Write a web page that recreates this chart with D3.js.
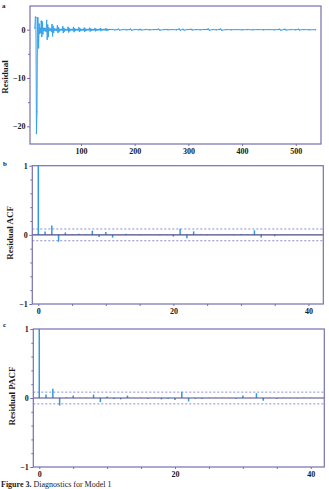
<!DOCTYPE html>
<html>
<head>
<meta charset="utf-8">
<script src="https://cdn.jsdelivr.net/npm/d3@7"></script>
<style>
  html, body { margin: 0; padding: 0; background: #fff; }
  svg { display: block; }
  text { font-family: "Liberation Serif", "DejaVu Serif", serif; }
</style>
</head>
<body>
<svg id="chart" width="329" height="489"></svg>
<script>
// ---------------- DATA ----------------
// Panel a: residual series (dense part starts at t = 14, one value per step)
const residualStart = 14;
const residualDense = [
  0.3, 2.6, 2.6, -21.5, -17.0, 2.5, 2.4, -3.8, 1.2, -0.8, 0.3, -0.6,
  1.8, -1.4, 1.6, -0.9, 0.3, -0.2, 0.3, -0.2, 0.2, -0.4, 1.9, -2.0,
  1.0, -1.4, 0.4, -0.2, 0.1, -0.1, 0.2, -0.4, 1.1, -1.3, 0.7, -0.6,
  0.2, -0.1, 0.1, -0.1, 0.1, -0.2, 0.8, -0.6, 0.4, -0.4, 0.1, -0.1,
  0.05, -0.05, 0.1, -0.1, 0.6, -0.6, 0.3, -0.3, 0.1, -0.05, 0.05, -0.05,
  0.05, -0.1, 0.5, -0.5, 0.25, -0.25, 0.05, -0.05, 0.05, -0.05, 0.05, -0.1,
  0.45, -0.45, 0.2, -0.2, 0.05, -0.05, 0.05, -0.05, 0.05, -0.05, 0.4, -0.35,
  0.2, -0.2, 0.05, -0.05, 0.05, -0.05, 0.05, -0.05, 0.35, -0.35, 0.15, -0.15,
  0.05, -0.05, 0.05, -0.05, 0.05, -0.05, 0.3, -0.3, 0.15, -0.15, 0.05, -0.05,
  0.03, -0.03, 0.03, -0.03, 0.25, -0.25, 0.1, -0.1, 0.03, -0.03, 0.03, -0.03,
  0.03, 0.03, 0.2, -0.2, 0.08, -0.08, 0.03, -0.03, 0.03, -0.03, 0.03, -0.03,
  0.18, -0.15, 0.08, -0.08, 0.03, -0.03, 0.03
];
// Panel a: sparse tail of the residual series (nearly flat)
const residualTailT = [158, 163, 168, 170, 172, 178, 185, 190, 192, 194, 200, 208, 210, 212, 220, 228,
  236, 243, 245, 247, 255, 260, 262, 270, 278, 283, 285, 290, 292, 298, 305, 307, 315, 322, 330,
  335, 337, 339, 345, 352, 358, 360, 362, 370, 380, 390, 400, 410, 420, 430, 440, 450, 460, 468,
  470, 472, 478, 480, 482, 490, 500, 505, 507, 515, 525, 537];
const residualTailV = [0.05, -0.05, 0.03, 0.12, -0.1, 0.03, -0.03, 0.02, 0.15, -0.12, 0.03, -0.02, 0.1,
  -0.08, 0.03, -0.03, 0.02, 0.03, 0.12, -0.1, 0.02, 0.04, -0.03, 0.02, -0.02, 0.15, -0.12, 0.1, -0.1,
  0.02, 0.08, -0.06, 0.02, -0.02, 0.03, 0.04, 0.15, -0.12, 0.02, -0.02, 0.03, 0.15, -0.12, 0.02, -0.02,
  0.02, -0.02, 0.02, -0.02, 0.02, -0.02, 0.02, -0.02, 0.03, 0.12, -0.1, 0.03, 0.1, -0.08, 0.02, -0.02,
  0.08, -0.06, 0.02, -0.02, 0.0];

// Panel b: residual ACF by lag 0..40
const acfLags = d3.range(0, 41);
const acfValues = [1.0, 0.05, 0.135, -0.10, 0.035, 0.01, 0.015, 0.008, 0.06, -0.03,
  0.04, -0.04, 0.0, 0.015, 0.005, -0.005, 0.005, 0.003, -0.005, 0.004,
  -0.025, 0.09, -0.05, 0.05, 0.005, -0.004, 0.003, -0.003, 0.004, -0.004,
  0.012, 0.004, 0.065, -0.04, 0.003, -0.02, 0.004, -0.003, 0.002, -0.002, 0.003];

// Panel c: residual PACF by lag 0..40
const pacfLags = d3.range(0, 41);
const pacfValues = [1.0, 0.05, 0.135, -0.11, 0.01, 0.035, 0.005, 0.004, 0.05, -0.06,
  0.02, -0.015, -0.02, 0.035, 0.003, 0.004, -0.01, 0.004, -0.02, -0.01,
  -0.03, 0.09, -0.05, -0.01, -0.01, 0.004, 0.003, 0.004, 0.003, -0.01,
  0.035, 0.004, 0.07, -0.04, 0.003, -0.01, 0.003, 0.002, -0.003, 0.002, 0.003];

const confBand = 0.085;
const resXTicks = [100, 200, 300, 400, 500];
const resYTicks = [-20, -10, 0];
const lagLabelTicks = [0, 20, 40];
const corrYTicks = [-1, 0, 1];

// ---------------- STYLE ----------------
const frameColor = "#7670ae";
const zeroColor = "#4e4888";
const dashColor = "#8c8cd2";
const lineColor = "#36a2ea";
const barColor = "#2c9ae6";

const svg = d3.select("#chart");

function frame(g, b) {
  g.append("rect")
    .attr("x", b.x0).attr("y", b.y0)
    .attr("width", b.x1 - b.x0).attr("height", b.y1 - b.y0)
    .attr("fill", "none").attr("stroke", frameColor).attr("stroke-width", 1.2);
}

function styleAxis(g) {
  g.select(".domain").remove();
  g.selectAll(".tick line").attr("stroke", frameColor);
  g.selectAll(".tick text")
    .attr("fill", "#1a1a1a").style("font-size", "8px").style("font-weight", "bold")
    .style("font-family", "'Liberation Serif', serif");
}

function panelLabel(txt, x, y) {
  svg.append("text").attr("x", x).attr("y", y).text(txt)
    .style("font-size", "7px").style("font-weight", "bold").attr("fill", "#1a1a1a");
}

function yLabel(txt, x, yc, size) {
  svg.append("text")
    .attr("transform", `translate(${x},${yc}) rotate(-90)`)
    .attr("text-anchor", "middle").attr("dy", "0.35em")
    .text(txt).style("font-size", size + "px").style("font-weight", "bold").attr("fill", "#1a1a1a");
}

// ---------------- PANEL A ----------------
{
  const b = { x0: 30, x1: 321, y0: 6, y1: 144 };
  const x = d3.scaleLinear().domain([5, 547]).range([b.x0, b.x1]);
  const y = d3.scaleLinear().domain([-23.66, 4.9]).range([b.y1, b.y0]);
  const g = svg.append("g");

  const pts = residualDense.map((v, i) => [residualStart + i, v])
    .concat(residualTailT.map((t, i) => [t, residualTailV[i]]));

  const line = d3.line().x(d => x(d[0])).y(d => y(d[1]));
  g.append("path").datum(pts).attr("d", line)
    .attr("fill", "none").attr("stroke", lineColor).attr("stroke-width", 1)
    .attr("stroke-linejoin", "round");
  g.selectAll("circle.pt").data(pts).enter().append("circle")
    .attr("cx", d => x(d[0])).attr("cy", d => y(d[1])).attr("r", 0.7)
    .attr("fill", lineColor);

  frame(g, b);
  g.append("g").attr("transform", `translate(${b.x0},0)`)
    .call(d3.axisLeft(y).tickValues(resYTicks).tickSize(3).tickPadding(1.5).tickFormat(d3.format("d")))
    .call(styleAxis);
  g.append("g").attr("transform", `translate(${b.x0},0)`)
    .call(d3.axisLeft(y).tickValues([-15, -5]).tickSize(2).tickFormat(""))
    .call(styleAxis);
  g.append("g").attr("transform", `translate(0,${b.y1})`)
    .call(d3.axisBottom(x).tickValues(resXTicks).tickSize(2).tickPadding(2.5).tickFormat(d3.format("d")))
    .call(styleAxis);

  panelLabel("a", 2, 8);
  yLabel("Residual", 5, 77, 9);
}

// ---------------- CORRELOGRAM PANELS ----------------
function correlogram(b, lags, vals, xDomain, label, labelX, letter, letterY, labelSize) {
  const x = d3.scaleLinear().domain(xDomain).range([b.x0, b.x1]);
  const y = d3.scaleLinear().domain([-1, 1]).range([b.y1, b.y0]);
  const g = svg.append("g");

  [confBand, -confBand].forEach(c => {
    g.append("line").attr("x1", b.x0).attr("x2", b.x1)
      .attr("y1", y(c)).attr("y2", y(c))
      .attr("stroke", dashColor).attr("stroke-width", 1).attr("stroke-dasharray", "2,2");
  });

  g.selectAll("line.bar").data(lags).enter().append("line")
    .attr("x1", d => x(d)).attr("x2", d => x(d))
    .attr("y1", y(0)).attr("y2", (d, i) => y(vals[i]))
    .attr("stroke", barColor).attr("stroke-width", 1.5);

  g.append("line").attr("x1", b.x0).attr("x2", b.x1)
    .attr("y1", y(0)).attr("y2", y(0))
    .attr("stroke", zeroColor).attr("stroke-width", 1.1);

  frame(g, b);

  g.append("g").attr("transform", `translate(${b.x0},0)`)
    .call(d3.axisLeft(y).tickValues(corrYTicks).tickSize(3).tickPadding(1.5).tickFormat(d3.format("d")))
    .call(styleAxis);
  g.append("g").attr("transform", `translate(${b.x0},0)`)
    .call(d3.axisLeft(y).tickValues(d3.range(-0.8, 0.81, 0.2).filter(v => Math.abs(v) > 1e-6)).tickSize(2).tickFormat(""))
    .call(styleAxis);
  g.append("g").attr("transform", `translate(0,${b.y1})`)
    .call(d3.axisBottom(x).tickValues(lagLabelTicks).tickSize(2).tickPadding(2).tickFormat(d3.format("d")))
    .call(styleAxis);
  g.append("g").attr("transform", `translate(0,${b.y1})`)
    .call(d3.axisBottom(x).tickValues([5, 10, 15, 25, 30, 35]).tickSize(2).tickFormat(""))
    .call(styleAxis);

  panelLabel(letter, 3, letterY);
  yLabel(label, labelX, (b.y0 + b.y1) / 2 - 2, labelSize);
}

correlogram({ x0: 32.3, x1: 323.3, y0: 165.7, y1: 304 }, acfLags, acfValues,
  [-0.89, 42.2], "Residual ACF", 10, "b", 166, 9);
correlogram({ x0: 33.3, x1: 324.3, y0: 329, y1: 467 }, pacfLags, pacfValues,
  [-0.88, 42.0], "Residual PACF", 12, "c", 327, 9);

// caption
const cap = svg.append("text").attr("x", 1).attr("y", 486.5).style("font-size", "8px").attr("fill", "#1a1a1a");
cap.append("tspan").text("Figure 3.").style("font-weight", "bold");
cap.append("tspan").text(" Diagnostics for Model 1");
</script>
</body>
</html>
